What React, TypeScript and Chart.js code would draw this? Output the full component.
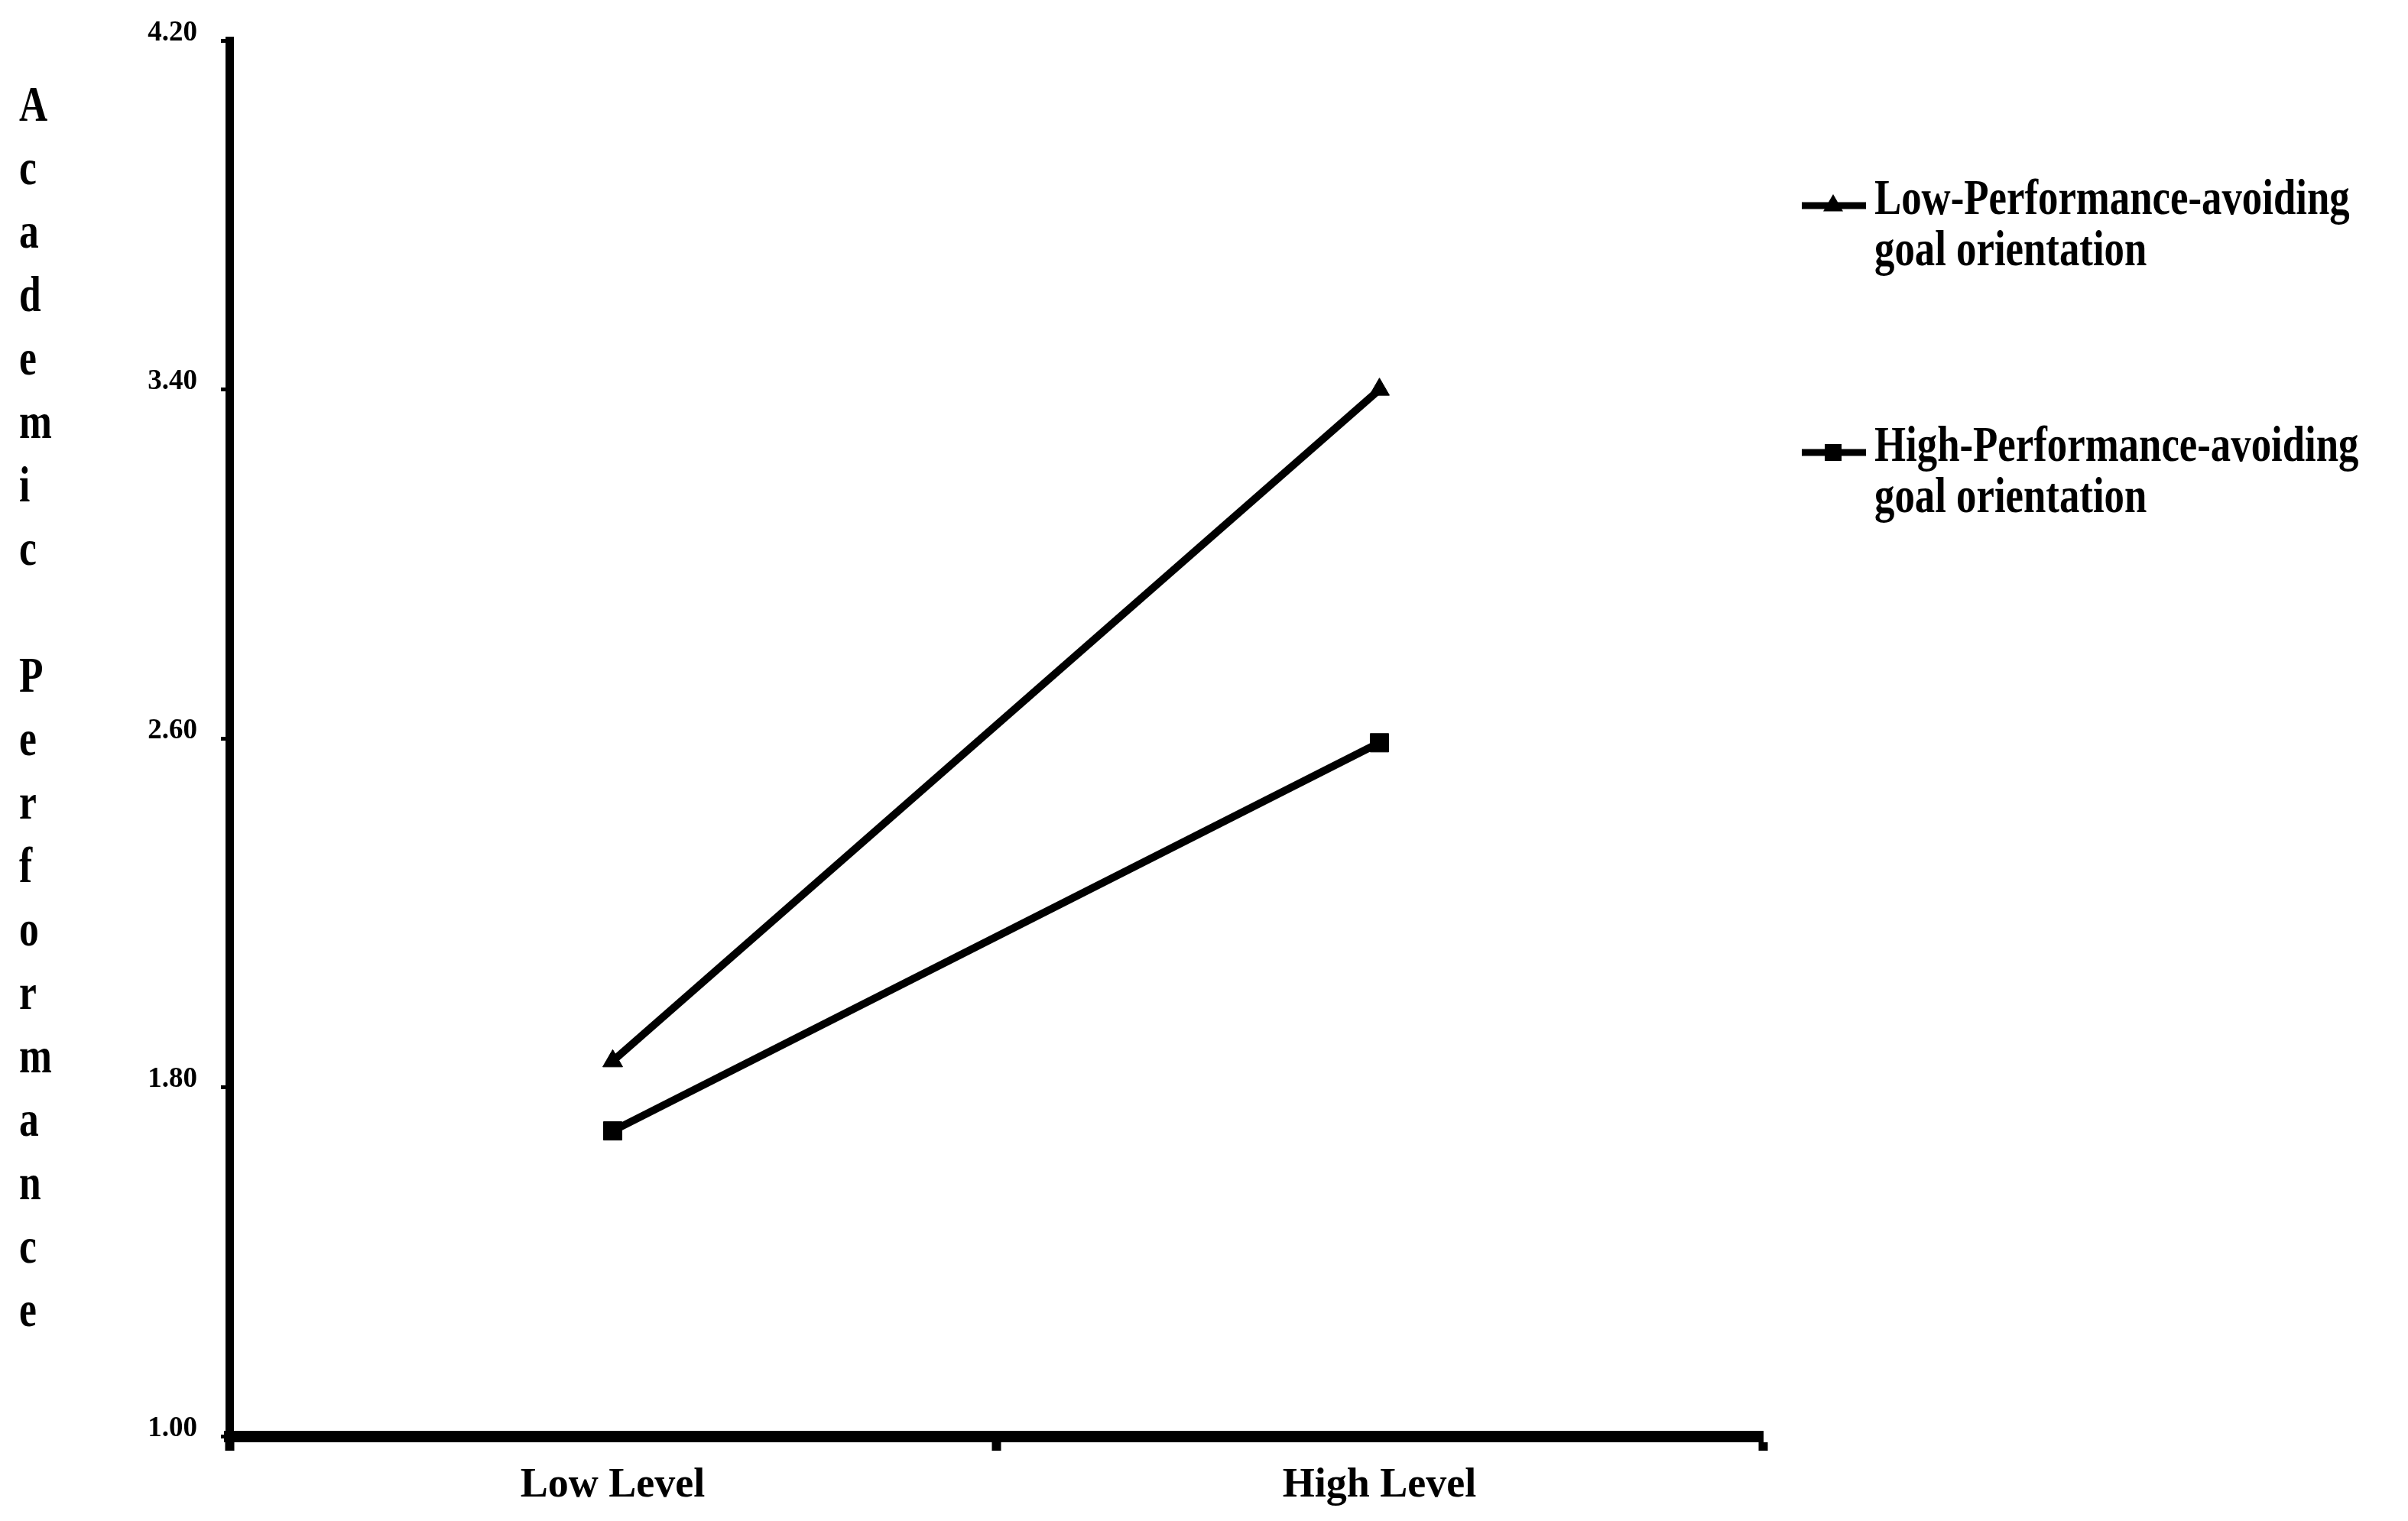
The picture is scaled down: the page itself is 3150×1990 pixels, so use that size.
import React, { useEffect, useRef } from 'react';
import { Chart, registerables } from 'chart.js';

Chart.register(...registerables);

const xLabels = ['Low Level', 'High Level'];
const lowAvoidingValues = [1.86, 3.40];
const highAvoidingValues = [1.70, 2.59];
const seriesLabelLines = [
  ['Low-Performance-avoiding', 'goal orientation'],
  ['High-Performance-avoiding', 'goal orientation'],
];
const seriesPointStyles = ['triangle', 'rect'];
const yTickValues = [1.0, 1.8, 2.6, 3.4, 4.2];
const yTitle = 'Academic Performance';

const SERIF = '"Liberation Serif", "Times New Roman", serif';

const yTitlePlugin = {
  id: 'stackedYTitle',
  afterDraw(chart: any) {
    const ctx = chart.ctx;
    ctx.save();
    ctx.fillStyle = '#000';
    ctx.font = `bold 66px ${SERIF}`;
    ctx.textBaseline = 'middle';
    ctx.textAlign = 'left';
    const letters = yTitle.split('');
    letters.forEach((ch, i) => {
      if (ch === ' ') return;
      ctx.save();
      ctx.translate(25, 141 + i * 83.0);
      ctx.scale(0.78, 1);
      ctx.fillText(ch, 0, 0);
      ctx.restore();
    });
    ctx.restore();
  },
};

const legendPlugin = {
  id: 'sideLegend',
  afterDraw(chart: any) {
    const ctx = chart.ctx;
    const baselines = [280, 603];
    ctx.save();
    chart.data.datasets.forEach((ds: any, i: number) => {
      const base = baselines[i];
      const my = base - 11;
      ctx.strokeStyle = '#000';
      ctx.lineWidth = 9;
      ctx.beginPath();
      ctx.moveTo(2357, my);
      ctx.lineTo(2441, my);
      ctx.stroke();
      ctx.fillStyle = '#000';
      const cx = 2398;
      if (ds.pointStyle === 'triangle') {
        const r = 15;
        ctx.beginPath();
        ctx.moveTo(cx, my - r);
        ctx.lineTo(cx + r * 0.866, my + r / 2);
        ctx.lineTo(cx - r * 0.866, my + r / 2);
        ctx.closePath();
        ctx.fill();
      } else {
        ctx.fillRect(cx - 11, my - 11, 22, 22);
      }
      ctx.font = `bold 66px ${SERIF}`;
      ctx.textBaseline = 'alphabetic';
      ctx.textAlign = 'left';
      const lines: string[] = seriesLabelLines[i];
      lines.forEach((t, j) => {
        ctx.save();
        ctx.translate(2452, base + j * 67);
        ctx.scale(0.8, 1);
        ctx.fillText(t, 0, 0);
        ctx.restore();
      });
    });
    ctx.restore();
  },
};

export default function App() {
  const canvasRef = useRef<HTMLCanvasElement | null>(null);

  useEffect(() => {
    if (!canvasRef.current) return;
    const chart = new Chart(canvasRef.current, {
      type: 'line',
      data: {
        labels: xLabels,
        datasets: [
          {
            label: seriesLabelLines[0].join(' '),
            data: lowAvoidingValues,
            borderColor: '#000',
            backgroundColor: '#000',
            borderWidth: 10,
            pointStyle: seriesPointStyles[0] as any,
            pointRadius: 15,
            pointBorderWidth: 1,
            pointBackgroundColor: '#000',
            tension: 0,
          },
          {
            label: seriesLabelLines[1].join(' '),
            data: highAvoidingValues,
            borderColor: '#000',
            backgroundColor: '#000',
            borderWidth: 10,
            pointStyle: seriesPointStyles[1] as any,
            pointRadius: 17,
            pointBorderWidth: 1,
            pointBackgroundColor: '#000',
            tension: 0,
          },
        ],
      },
      options: {
        animation: false,
        responsive: false,
        devicePixelRatio: 1,
        layout: { padding: { top: 38, right: 844, bottom: 0, left: 0 } },
        plugins: {
          legend: { display: false },
          tooltip: { enabled: false },
        },
        scales: {
          x: {
            type: 'category',
            offset: true,
            grid: {
              display: true,
              offset: true,
              drawOnChartArea: false,
              tickLength: 19,
              tickWidth: 12,
              tickColor: '#000',
            },
            border: { display: true, color: '#000', width: 15 },
            ticks: {
              color: '#000',
              font: { family: SERIF, size: 54, weight: 'bold' },
              padding: 14,
              maxRotation: 0,
              autoSkip: false,
            },
            afterFit: (s: any) => {
              s.height = 111;
            },
          },
          y: {
            min: 1,
            max: 4.2,
            afterBuildTicks: (s: any) => {
              s.ticks = yTickValues.map((v) => ({ value: v }));
            },
            grid: {
              drawOnChartArea: false,
              tickLength: 11,
              tickWidth: 5,
              tickColor: '#000',
            },
            border: { display: true, color: '#000', width: 11 },
            ticks: {
              color: '#000',
              font: { family: SERIF, size: 37, weight: 'bold' },
              padding: 31,
              labelOffset: -10,
              callback: (v: any) => Number(v).toFixed(2),
            },
            afterFit: (s: any) => {
              s.width = 300;
            },
          },
        },
      } as any,
      plugins: [yTitlePlugin, legendPlugin],
    });
    return () => chart.destroy();
  }, []);

  return (
    <canvas
      ref={canvasRef}
      width={3150}
      height={1990}
      style={{ position: 'absolute', left: 0, top: 0, display: 'block', background: '#fff' }}
    />
  );
}
